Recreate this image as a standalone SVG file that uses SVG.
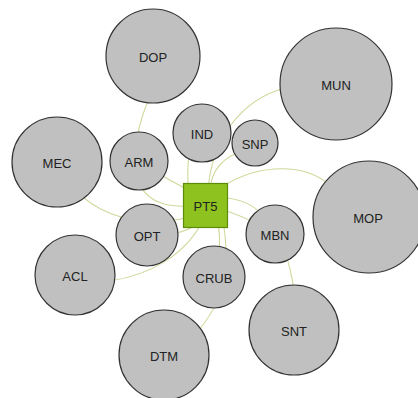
<svg xmlns="http://www.w3.org/2000/svg" width="418" height="398" viewBox="0 0 418 398">
<style>
.e{fill:none;stroke:#cdd99a;stroke-width:1.1}
.c{fill:#c0c0c0;stroke:#333;stroke-width:1.2}
.t{font-family:"Liberation Sans",Arial,sans-serif;font-size:13px;fill:#222;text-anchor:middle;dominant-baseline:central}
</style>
<rect width="418" height="398" fill="#fff"/>
<g id="connectors">
<path class="e" d="M153 90 C138 120 128 165 140 185 C150 205 170 208 205 206"/>
<path class="e" d="M139 161 Q170 182 205 198"/>
<path class="e" d="M57 162 C85 222 150 232 206 212"/>
<path class="e" d="M147 235 Q180 238 204 220"/>
<path class="e" d="M110 281 C150 275 185 255 202 222"/>
<path class="e" d="M222 215 C232 270 225 300 195 335"/>
<path class="e" d="M216 215 Q224 245 214 270"/>
<path class="e" d="M215 198 C260 195 285 230 294 290"/>
<path class="e" d="M215 208 Q245 215 270 232"/>
<path class="e" d="M215 192 C250 165 300 160 330 185"/>
<path class="e" d="M285 88 C240 100 212 140 208 190"/>
<path class="e" d="M245 150 Q212 160 210 190"/>
<path class="e" d="M190 150 Q186 170 189 192"/>
</g>
<g id="DOP"><circle class="c" cx="153" cy="56" r="47"/><text class="t" x="153" y="57">DOP</text></g>
<g id="MEC"><circle class="c" cx="57" cy="162" r="45"/><text class="t" x="57" y="163">MEC</text></g>
<g id="ARM"><circle class="c" cx="139" cy="161" r="29"/><text class="t" x="139" y="162">ARM</text></g>
<g id="IND"><circle class="c" cx="202" cy="133" r="29"/><text class="t" x="202" y="134">IND</text></g>
<g id="SNP"><circle class="c" cx="255" cy="143" r="23"/><text class="t" x="255" y="144">SNP</text></g>
<g id="MUN"><circle class="c" cx="336" cy="84" r="56"/><text class="t" x="336" y="85">MUN</text></g>
<g id="MOP"><circle class="c" cx="369" cy="217" r="56"/><text class="t" x="368" y="218">MOP</text></g>
<g id="OPT"><circle class="c" cx="147" cy="235" r="31"/><text class="t" x="147" y="236">OPT</text></g>
<g id="ACL"><circle class="c" cx="75" cy="275" r="40"/><text class="t" x="75" y="276">ACL</text></g>
<g id="CRUB"><circle class="c" cx="214" cy="277" r="31"/><text class="t" x="214" y="278">CRUB</text></g>
<g id="MBN"><circle class="c" cx="275" cy="234" r="29"/><text class="t" x="275" y="235">MBN</text></g>
<g id="SNT"><circle class="c" cx="294" cy="330" r="45"/><text class="t" x="294" y="331">SNT</text></g>
<g id="DTM"><circle class="c" cx="164" cy="355" r="45"/><text class="t" x="164" y="356">DTM</text></g>
<g id="PT5"><rect x="183.5" y="183.5" width="44" height="44" fill="#8dc21f" stroke="#5d8a0a" stroke-width="1.2"/><text class="t" x="205.5" y="206">PT5</text></g>
</svg>
